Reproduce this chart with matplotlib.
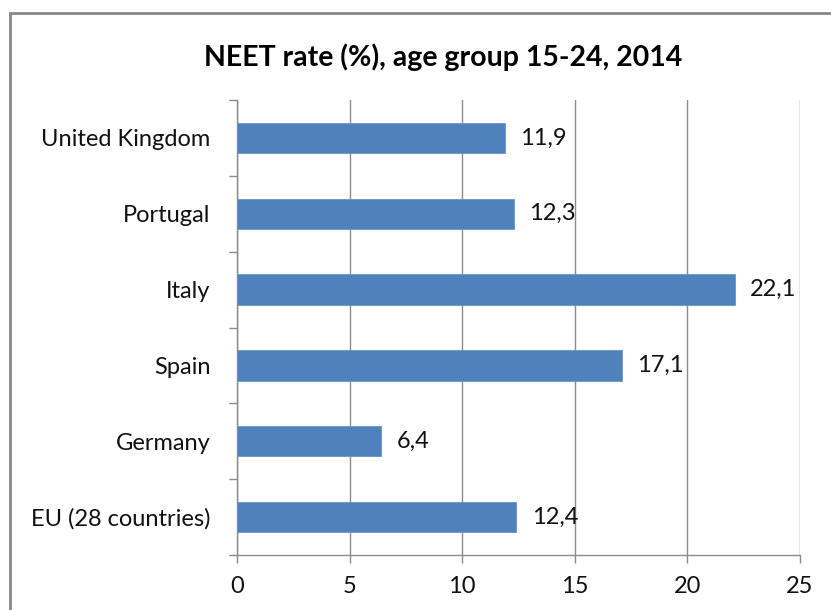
import matplotlib
matplotlib.use("Agg")
import matplotlib.pyplot as plt
from matplotlib.patches import Rectangle

countries = ["United Kingdom", "Portugal", "Italy", "Spain", "Germany", "EU (28 countries)"]
values = [11.9, 12.3, 22.1, 17.1, 6.4, 12.4]
value_labels = ["11,9", "12,3", "22,1", "17,1", "6,4", "12,4"]
xticks = [0, 5, 10, 15, 20, 25]
title = "NEET rate (%), age group 15-24, 2014"

plt.rcParams['font.family'] = ['Lato', 'DejaVu Sans']

W, H = 831, 610
fig = plt.figure(figsize=(W / 100, H / 100), dpi=100)
ax = fig.add_axes([237 / W, 1 - 555 / H, (800 - 237) / W, (555 - 100) / H])

grid_c = '#8c8c8c'
bar_c = '#4F81BD'
txt_c = '#111111'
fs = 17

pos = list(range(len(countries)))
ax.barh(pos, values, height=0.4, color=bar_c, edgecolor='#6A93C8', linewidth=0.6, zorder=3)
ax.set_ylim(len(countries) - 0.5, -0.5)
ax.set_xlim(0, 25)

for p, v, lab in zip(pos, values, value_labels):
    ax.annotate(lab, (v, p), xytext=(11, 0), textcoords='offset points',
                va='center', ha='left', fontsize=fs, color=txt_c)

ax.set_yticks(pos)
ax.set_yticklabels(countries, fontsize=fs, color=txt_c)
ax.set_yticks([p - 0.5 for p in pos] + [len(pos) - 0.5], minor=True)
ax.tick_params(axis='y', which='major', length=0, pad=19)
ax.tick_params(axis='y', which='minor', length=6, width=1, color=grid_c, direction='out')

ax.set_xticks(xticks)
ax.set_xticklabels([str(t) for t in xticks], fontsize=fs, color=txt_c)
ax.tick_params(axis='x', length=6, width=1, color=grid_c, direction='out', pad=9)

ax.grid(axis='x', color=grid_c, linewidth=1, zorder=0)
ax.set_axisbelow(True)
for s in ['top', 'right']:
    ax.spines[s].set_visible(False)
for s in ['left', 'bottom']:
    ax.spines[s].set_color(grid_c)
    ax.spines[s].set_linewidth(1)

fig.text(443 / W, 1 - 57 / H, title, ha='center', va='center',
         fontsize=20.5, fontweight='bold', color='black')

fig.patches.append(Rectangle((10 / W, -0.1), 1.2, 1.1 - 13 / H,
                             transform=fig.transFigure, fill=False,
                             edgecolor='#878787', linewidth=2, zorder=10))

fig.savefig('out.png', dpi=100)
